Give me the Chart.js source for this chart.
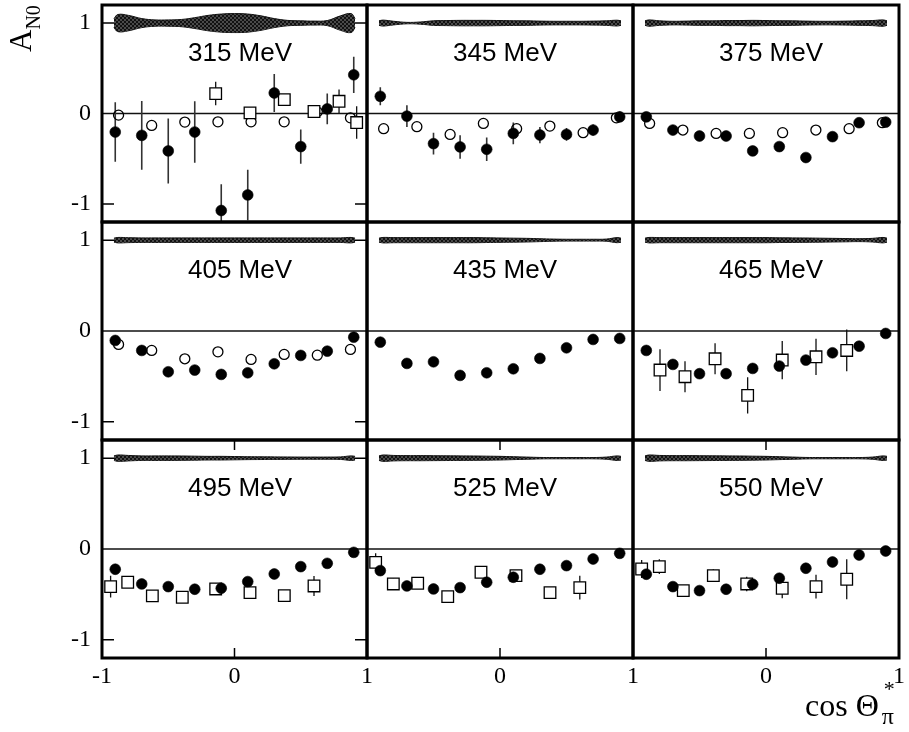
<!DOCTYPE html>
<html>
<head>
<meta charset="utf-8">
<script src="https://cdn.jsdelivr.net/npm/chart.js@4.4.1/dist/chart.umd.min.js"></script>
<style>
  body { margin: 0; background: #fff; }
  #wrap { position: relative; width: 909px; height: 732px; overflow: hidden; background: #fff; }
  #wrap canvas { position: absolute; }
  .ytitle { position: absolute; display: inline-block; left: 5px; top: 52px; font: 31px "Liberation Serif", serif; line-height: 31px;
            white-space: nowrap; transform: rotate(-90deg); transform-origin: 0 0; color: #000; z-index: 2; }
  .ytitle span { font-size: 20px; position: relative; top: 9px; }
  .xtitle { position: absolute; left: 805px; top: 689px; font: 32px "Liberation Serif", serif; line-height: 32px;
            white-space: nowrap; color: #000; z-index: 2; }
  .xtitle .idx { position: relative; display: inline-block; width: 16px; height: 10px; }
  .xtitle .sub { position: absolute; left: 3px; top: -6px; font-size: 24px; }
  .xtitle .sup { position: absolute; left: 5px; top: -33px; font-size: 22px; }
</style>
</head>
<body>
<div id="wrap">
  <div class="ytitle">A<span>N0</span></div>
  <div class="xtitle">cos Θ<span class="idx"><span class="sub">π</span><span class="sup">*</span></span></div>
</div>
<script>
// ---- data -------------------------------------------------------------
const energyLabels = ['315 MeV', '345 MeV', '375 MeV', '405 MeV', '435 MeV', '465 MeV', '495 MeV', '525 MeV', '550 MeV'];
const xTickVals = [-1, 0, 1];
const yTickVals = [-1, 0, 1];

// bin centres in cos(theta)
const cosFilled = [-0.9, -0.7, -0.5, -0.3, -0.1, 0.1, 0.3, 0.5, 0.7, 0.9];
const cosOpen = [-0.875, -0.625, -0.375, -0.125, 0.125, 0.375, 0.625, 0.875];
const bandCos = [-0.91, -0.88, -0.8, -0.7, -0.6, -0.5, -0.4, -0.3, -0.2, -0.1, 0, 0.1, 0.2, 0.3, 0.4, 0.5, 0.6, 0.7, 0.8, 0.88, 0.91];

// filled circles: asymmetry and statistical error
const filled315 = [-0.205, -0.242, -0.414, -0.205, -1.073, -0.901, 0.227, -0.366, 0.051, 0.428];
const filledErr315 = [0.33, 0.38, 0.36, 0.34, 0.29, 0.28, 0.21, 0.19, 0.17, 0.2];
const filled345 = [0.19, -0.029, -0.333, -0.37, -0.396, -0.22, -0.238, -0.231, -0.183, -0.037];
const filledErr345 = [0.1, 0.12, 0.12, 0.13, 0.13, 0.12, 0.09, 0.07, 0.06, 0.06];
const filled375 = [-0.037, -0.183, -0.249, -0.249, -0.414, -0.366, -0.487, -0.256, -0.102, -0.095];
const filledErr375 = [0.03, 0.04, 0.04, 0.05, 0.05, 0.05, 0.04, 0.03, 0.03, 0.03];
const filled405 = [-0.104, -0.214, -0.449, -0.43, -0.478, -0.46, -0.361, -0.269, -0.222, -0.068];
const filledErr405 = [0.03, 0.03, 0.03, 0.03, 0.03, 0.03, 0.03, 0.03, 0.03, 0.03];
const filled435 = [-0.123, -0.357, -0.339, -0.489, -0.46, -0.416, -0.302, -0.185, -0.093, -0.082];
const filledErr435 = [0.03, 0.03, 0.03, 0.03, 0.03, 0.03, 0.03, 0.03, 0.03, 0.03];
const filled465 = [-0.214, -0.368, -0.47, -0.47, -0.412, -0.386, -0.32, -0.24, -0.167, -0.027];
const filledErr465 = [0.03, 0.03, 0.03, 0.03, 0.03, 0.03, 0.03, 0.03, 0.03, 0.03];
const filled495 = [-0.223, -0.385, -0.414, -0.443, -0.432, -0.359, -0.275, -0.194, -0.158, -0.037];
const filledErr495 = [0.03, 0.03, 0.03, 0.03, 0.03, 0.03, 0.03, 0.03, 0.03, 0.03];
const filled525 = [-0.238, -0.407, -0.44, -0.425, -0.366, -0.311, -0.223, -0.183, -0.11, -0.048];
const filledErr525 = [0.03, 0.03, 0.03, 0.03, 0.03, 0.03, 0.03, 0.03, 0.03, 0.03];
const filled550 = [-0.278, -0.414, -0.458, -0.443, -0.388, -0.322, -0.212, -0.143, -0.066, -0.022];
const filledErr550 = [0.03, 0.03, 0.03, 0.03, 0.03, 0.03, 0.03, 0.03, 0.03, 0.03];

// open circles
const open315 = [-0.018, -0.132, -0.095, -0.092, -0.092, -0.092, 0.018, -0.048];
const open345 = [-0.168, -0.146, -0.231, -0.11, -0.168, -0.139, -0.212, -0.048];
const open375 = [-0.11, -0.183, -0.22, -0.22, -0.212, -0.183, -0.168, -0.102];
const open405 = [-0.148, -0.214, -0.306, -0.229, -0.313, -0.258, -0.266, -0.203];

// open squares: position, asymmetry, error
const sqCos315 = [-0.142, 0.117, 0.376, 0.6, 0.789, 0.922];
const sq315 = [0.22, 0.007, 0.154, 0.022, 0.135, -0.1];
const sqErr315 = [0.13, 0.06, 0.05, 0, 0.13, 0.18];
const sqCos465 = [-0.797, -0.609, -0.383, -0.138, 0.122, 0.376, 0.607];
const sq465 = [-0.43, -0.503, -0.306, -0.709, -0.32, -0.284, -0.214];
const sqErr465 = [0.23, 0.17, 0.17, 0.2, 0.21, 0.2, 0.23];
const sqCos495 = [-0.935, -0.806, -0.62, -0.394, -0.142, 0.117, 0.376, 0.6];
const sq495 = [-0.414, -0.366, -0.516, -0.531, -0.44, -0.48, -0.513, -0.407];
const sqErr495 = [0.12, 0.05, 0.05, 0.04, 0.06, 0.07, 0.06, 0.11];
const sqCos525 = [-0.935, -0.802, -0.619, -0.393, -0.143, 0.12, 0.376, 0.6];
const sq525 = [-0.147, -0.385, -0.377, -0.524, -0.256, -0.293, -0.48, -0.425];
const sqErr525 = [0.1, 0.06, 0.05, 0.06, 0.05, 0.05, 0.06, 0.13];
const sqCos550 = [-0.935, -0.802, -0.622, -0.396, -0.145, 0.122, 0.376, 0.607];
const sq550 = [-0.22, -0.194, -0.458, -0.293, -0.385, -0.432, -0.414, -0.333];
const sqErr550 = [0.1, 0.08, 0.06, 0.07, 0.08, 0.11, 0.13, 0.22];

// systematic-error band half widths around A = 1
const band315 = [0.05, 0.095, 0.085, 0.05, 0.035, 0.035, 0.04, 0.06, 0.085, 0.1, 0.105, 0.1, 0.08, 0.05, 0.03, 0.025, 0.022, 0.028, 0.08, 0.105, 0.05];
const band345 = [0.025, 0.033, 0.02, 0.008, 0.012, 0.025, 0.028, 0.03, 0.03, 0.03, 0.028, 0.026, 0.025, 0.022, 0.02, 0.02, 0.02, 0.022, 0.025, 0.032, 0.025];
const band375 = [0.025, 0.035, 0.025, 0.02, 0.022, 0.025, 0.025, 0.028, 0.028, 0.03, 0.028, 0.026, 0.025, 0.022, 0.02, 0.02, 0.022, 0.025, 0.028, 0.035, 0.025];
const band405 = [0.022, 0.03, 0.027, 0.025, 0.025, 0.025, 0.025, 0.025, 0.025, 0.025, 0.025, 0.025, 0.025, 0.025, 0.025, 0.025, 0.025, 0.025, 0.025, 0.03, 0.022];
const band435 = [0.022, 0.03, 0.028, 0.028, 0.028, 0.028, 0.028, 0.028, 0.028, 0.026, 0.024, 0.022, 0.02, 0.016, 0.012, 0.01, 0.01, 0.01, 0.012, 0.028, 0.022];
const band465 = [0.022, 0.03, 0.028, 0.028, 0.028, 0.028, 0.028, 0.028, 0.028, 0.028, 0.028, 0.026, 0.025, 0.024, 0.022, 0.02, 0.018, 0.016, 0.02, 0.03, 0.022];
const band495 = [0.025, 0.035, 0.03, 0.025, 0.025, 0.025, 0.024, 0.022, 0.02, 0.02, 0.018, 0.016, 0.015, 0.014, 0.013, 0.012, 0.012, 0.012, 0.014, 0.025, 0.02];
const band525 = [0.025, 0.035, 0.03, 0.028, 0.028, 0.027, 0.026, 0.025, 0.024, 0.022, 0.02, 0.016, 0.012, 0.008, 0.007, 0.007, 0.007, 0.007, 0.012, 0.025, 0.02];
const band550 = [0.025, 0.035, 0.03, 0.028, 0.028, 0.027, 0.026, 0.025, 0.024, 0.022, 0.02, 0.016, 0.012, 0.008, 0.007, 0.007, 0.007, 0.007, 0.012, 0.025, 0.02];

const panels = [
  { label: energyLabels[0], filled: filled315, filledErr: filledErr315, open: open315, sqCos: sqCos315, sq: sq315, sqErr: sqErr315, band: band315 },
  { label: energyLabels[1], filled: filled345, filledErr: filledErr345, open: open345, band: band345 },
  { label: energyLabels[2], filled: filled375, filledErr: filledErr375, open: open375, band: band375 },
  { label: energyLabels[3], filled: filled405, filledErr: filledErr405, open: open405, band: band405 },
  { label: energyLabels[4], filled: filled435, filledErr: filledErr435, band: band435 },
  { label: energyLabels[5], filled: filled465, filledErr: filledErr465, sqCos: sqCos465, sq: sq465, sqErr: sqErr465, band: band465 },
  { label: energyLabels[6], filled: filled495, filledErr: filledErr495, sqCos: sqCos495, sq: sq495, sqErr: sqErr495, band: band495 },
  { label: energyLabels[7], filled: filled525, filledErr: filledErr525, sqCos: sqCos525, sq: sq525, sqErr: sqErr525, band: band525 },
  { label: energyLabels[8], filled: filled550, filledErr: filledErr550, sqCos: sqCos550, sq: sq550, sqErr: sqErr550, band: band550 }
];

// ---- layout of the 3x3 grid (page pixels) ------------------------------
const colEdges = [102, 367, 633, 899];
const rowEdges = [5, 222, 440, 658];

// ---- helpers ------------------------------------------------------------
const pts = (xs, ys) => xs.map((x, i) => ({ x, y: ys[i] }));
function errorSegments(xs, ys, es) {
  const out = [];
  xs.forEach((x, i) => {
    if (!es[i]) return;
    out.push({ x, y: ys[i] - es[i] }, { x, y: ys[i] + es[i] }, { x, y: null });
  });
  return out;
}
function hatch() {
  const c = document.createElement('canvas');
  c.width = 4; c.height = 4;
  const g = c.getContext('2d');
  g.fillStyle = '#4a4a4a'; g.fillRect(0, 0, 4, 4);
  g.fillStyle = '#111'; g.fillRect(0, 0, 2, 2); g.fillRect(2, 2, 2, 2);
  return g.createPattern(c, 'repeat');
}
const bandFill = hatch();

// frame, inner ticks and energy label of each panel
const panelDeco = {
  id: 'panelDeco',
  afterDraw(chart, args, o) {
    const { ctx, chartArea: a, scales: { x, y } } = chart;
    ctx.save();
    ctx.fillStyle = '#000';
    ctx.font = '26px "Liberation Sans", Arial, sans-serif';
    ctx.textAlign = 'left';
    ctx.textBaseline = 'alphabetic';
    ctx.fillText(o.label, a.left + 86, y.getPixelForValue(0.58));
    ctx.strokeStyle = '#000';
    ctx.lineWidth = 1.5;
    ctx.beginPath();
    if (o.sideTicks) {
      for (const v of [1, -1]) {
        const py = y.getPixelForValue(v);
        ctx.moveTo(a.left, py); ctx.lineTo(a.left + 12, py);
        ctx.moveTo(a.right - 12, py); ctx.lineTo(a.right, py);
      }
    }
    if (o.centreTicks) {
      const px = x.getPixelForValue(0);
      ctx.moveTo(px, a.top); ctx.lineTo(px, a.top + 10);
      ctx.moveTo(px, a.bottom - 10); ctx.lineTo(px, a.bottom);
    }
    ctx.stroke();
    ctx.lineWidth = 3;
    ctx.strokeRect(a.left, a.top, a.width, a.height);
    ctx.restore();
  }
};

const zeroPadding = s => { s.paddingLeft = 0; s.paddingRight = 0; s.paddingTop = 0; s.paddingBottom = 0; };

const wrap = document.getElementById('wrap');
const tickFont = { family: '"Liberation Serif", "Times New Roman", serif', size: 24 };

panels.forEach((p, i) => {
  const r = Math.floor(i / 3), c = i % 3;
  const leftW = c === 0 ? 102 : 4;
  const rightW = 12;
  const topW = 4;
  const bottomW = r === 2 ? 36 : 4;
  const w = colEdges[c + 1] - colEdges[c] + leftW + rightW;
  const h = rowEdges[r + 1] - rowEdges[r] + topW + bottomW;
  const cv = document.createElement('canvas');
  cv.width = w; cv.height = h;
  cv.style.left = (colEdges[c] - leftW) + 'px';
  cv.style.top = (rowEdges[r] - topW) + 'px';
  cv.style.width = w + 'px'; cv.style.height = h + 'px';
  wrap.appendChild(cv);

  const datasets = [];
  datasets.push({
    data: pts(cosFilled, p.filled), showLine: false, order: 1,
    pointStyle: 'circle', pointRadius: 5.4, pointBackgroundColor: '#000', pointBorderColor: '#000', pointBorderWidth: 0.6
  });
  if (p.sq) {
    datasets.push({
      data: pts(p.sqCos, p.sq), showLine: false, order: 2,
      pointStyle: 'rect', pointRadius: 8.2, pointBackgroundColor: '#fff', pointBorderColor: '#000', pointBorderWidth: 1.3
    });
    datasets.push({
      data: errorSegments(p.sqCos, p.sq, p.sqErr), order: 4, pointRadius: 0,
      borderColor: '#111', borderWidth: 1.3, fill: false
    });
  }
  if (p.open) {
    datasets.push({
      data: pts(cosOpen, p.open), showLine: false, order: 3,
      pointStyle: 'circle', pointRadius: 5, pointBackgroundColor: 'rgba(255,255,255,0)', pointBorderColor: '#000', pointBorderWidth: 1.3
    });
  }
  datasets.push({
    data: errorSegments(cosFilled, p.filled, p.filledErr), order: 4, pointRadius: 0,
    borderColor: '#333', borderWidth: 1.6, fill: false
  });
  // horizontal line at A = 0
  datasets.push({
    data: [{ x: -1, y: 0 }, { x: 1, y: 0 }], order: 5, pointRadius: 0,
    borderColor: '#111', borderWidth: 1.5, fill: false
  });
  // systematic band
  datasets.push({
    data: bandCos.map((x, k) => ({ x, y: 1 + p.band[k] })), order: 6, pointRadius: 0, tension: 0.4,
    borderColor: '#111', borderWidth: 1, backgroundColor: bandFill, fill: '+1'
  });
  datasets.push({
    data: bandCos.map((x, k) => ({ x, y: 1 - p.band[k] })), order: 7, pointRadius: 0, tension: 0.4,
    borderColor: '#111', borderWidth: 1, fill: false
  });

  new Chart(cv, {
    type: 'line',
    data: { datasets },
    plugins: [panelDeco],
    options: {
      responsive: false,
      animation: false,
      events: [],
      layout: { autoPadding: false, padding: { left: c === 0 ? 0 : leftW, right: rightW, top: topW, bottom: r === 2 ? 0 : bottomW } },
      plugins: {
        legend: { display: false },
        tooltip: { enabled: false },
        panelDeco: { label: p.label, sideTicks: c === 0, centreTicks: r === 2 }
      },
      scales: {
        x: {
          type: 'linear', min: -1, max: 1, display: r === 2,
          grid: { display: false, drawTicks: false }, border: { display: false },
          afterBuildTicks: s => { s.ticks = (c === 0 ? xTickVals : xTickVals.slice(1)).map(v => ({ value: v })); },
          afterFit: s => { s.height = r === 2 ? bottomW : 0; zeroPadding(s); },
          ticks: { padding: 4, color: '#000', font: tickFont, maxRotation: 0, autoSkip: false, callback: v => String(v) }
        },
        y: {
          type: 'linear', min: -1.2, max: 1.2, display: c === 0,
          grid: { display: false, drawTicks: false }, border: { display: false },
          afterBuildTicks: s => { s.ticks = yTickVals.map(v => ({ value: v })); },
          afterFit: s => { s.width = c === 0 ? 102 : 0; zeroPadding(s); },
          ticks: { padding: 11, color: '#000', font: tickFont, autoSkip: false, callback: v => String(v) }
        }
      }
    }
  });
});
</script>
</body>
</html>
